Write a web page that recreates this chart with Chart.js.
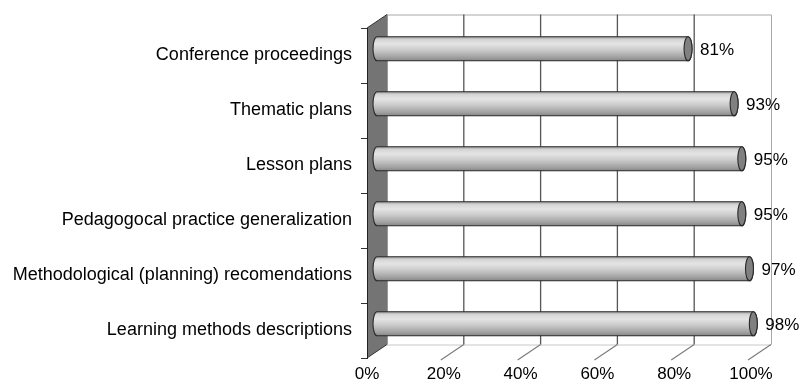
<!DOCTYPE html>
<html>
<head>
<meta charset="utf-8">
<script src="https://cdn.jsdelivr.net/npm/chart.js@4.4.1/dist/chart.umd.min.js"></script>
<style>
  html, body { margin: 0; padding: 0; background: #fff; }
  #wrap { width: 805px; height: 385px; }
</style>
</head>
<body>
<div id="wrap"><canvas id="c" width="805" height="385"></canvas></div>
<script>
// Kinds of materials and the share of respondents naming each one
const categories = [
  'Conference proceedings',
  'Thematic plans',
  'Lesson plans',
  'Pedagogocal practice generalization',
  'Methodological (planning) recomendations',
  'Learning methods descriptions'
];
const shares = [81, 93, 95, 95, 97, 98];
const tickValues = [0, 20, 40, 60, 80, 100];

// Perspective offset of the back wall relative to the front plane
const DEPTH_X = 20;
const DEPTH_Y = -13.5;
const FONT = '"Liberation Sans", Arial, Helvetica, sans-serif';

Chart.defaults.font.family = FONT;
Chart.defaults.color = '#000';

// Back wall, floor and left side wall of the 3-D box
const room3d = {
  id: 'room3d',
  beforeDraw(chart) {
    const { ctx, chartArea: a, scales: { x } } = chart;
    const f0 = x.getPixelForValue(0);
    const f100 = x.getPixelForValue(100);
    const b0 = f0 + DEPTH_X, b100 = f100 + DEPTH_X;
    const bTop = a.top + DEPTH_Y, bBottom = a.bottom + DEPTH_Y;
    ctx.save();
    // back wall outline
    ctx.strokeStyle = '#a8a8a8';
    ctx.lineWidth = 1;
    ctx.beginPath();
    ctx.moveTo(b0, bTop + 0.5); ctx.lineTo(b100 + 0.5, bTop + 0.5);
    ctx.lineTo(b100 + 0.5, bBottom);
    ctx.stroke();
    ctx.strokeStyle = '#c8c8c8';
    ctx.beginPath();
    ctx.moveTo(b0, bBottom + 0.5); ctx.lineTo(b100, bBottom + 0.5);
    ctx.stroke();
    // vertical gridlines on the back wall
    ctx.strokeStyle = '#555';
    ctx.lineWidth = 1.3;
    tickValues.forEach(v => {
      if (v === 0 || v === 100) return;
      const bx = x.getPixelForValue(v) + DEPTH_X;
      ctx.beginPath();
      ctx.moveTo(bx, bTop); ctx.lineTo(bx, bBottom);
      ctx.stroke();
    });
    // floor lines running to the front, ending in short ticks
    ctx.strokeStyle = '#7a7a7a';
    ctx.lineWidth = 1.1;
    const ext = 0.15;
    tickValues.forEach(v => {
      if (v === 0) return;
      const fx = x.getPixelForValue(v);
      const bx = fx + DEPTH_X;
      ctx.beginPath();
      ctx.moveTo(bx, bBottom);
      ctx.lineTo(fx - DEPTH_X * ext, a.bottom - DEPTH_Y * ext);
      ctx.stroke();
    });
    // left side wall
    ctx.fillStyle = '#747474';
    ctx.beginPath();
    ctx.moveTo(f0, a.top); ctx.lineTo(b0, bTop);
    ctx.lineTo(b0, bBottom); ctx.lineTo(f0, a.bottom);
    ctx.closePath();
    ctx.fill();
    ctx.strokeStyle = '#333';
    ctx.lineWidth = 1;
    ctx.beginPath();
    ctx.moveTo(f0, a.top); ctx.lineTo(b0, bTop);
    ctx.moveTo(f0, a.bottom); ctx.lineTo(b0, bBottom);
    ctx.stroke();
    ctx.strokeStyle = '#999';
    ctx.beginPath();
    ctx.moveTo(b0 + 0.5, bTop); ctx.lineTo(b0 + 0.5, bBottom);
    ctx.stroke();
    ctx.restore();
  }
};

// Bars drawn as shaded cylinders halfway into the box, with value labels
const cylinders = {
  id: 'cylinders',
  afterDatasetsDraw(chart) {
    const { ctx } = chart;
    const meta = chart.getDatasetMeta(0);
    const rx = 4;
    ctx.save();
    meta.data.forEach((el, i) => {
      const { x, y, base, height } = el.getProps(['x', 'y', 'base', 'height'], true);
      const x0 = base + DEPTH_X / 2;
      const x1 = x + DEPTH_X / 2;
      const cy = y + DEPTH_Y / 2;
      const r = height / 2;
      const g = ctx.createLinearGradient(0, cy - r, 0, cy + r);
      g.addColorStop(0, '#a0a0a0');
      g.addColorStop(0.12, '#d6d6d6');
      g.addColorStop(0.3, '#e4e4e4');
      g.addColorStop(0.55, '#cbcbcb');
      g.addColorStop(0.85, '#a2a2a2');
      g.addColorStop(1, '#868686');
      ctx.beginPath();
      ctx.moveTo(x0, cy - r);
      ctx.lineTo(x1, cy - r);
      ctx.ellipse(x1, cy, rx, r, 0, -Math.PI / 2, Math.PI / 2);
      ctx.lineTo(x0, cy + r);
      ctx.ellipse(x0, cy, rx, r, 0, Math.PI / 2, Math.PI * 1.5);
      ctx.closePath();
      ctx.fillStyle = g;
      ctx.fill();
      ctx.strokeStyle = '#2a2a2a';
      ctx.lineWidth = 1.1;
      ctx.stroke();
      // end cap
      ctx.beginPath();
      ctx.ellipse(x1, cy, rx, r, 0, 0, Math.PI * 2);
      ctx.fillStyle = '#808080';
      ctx.fill();
      ctx.stroke();
      // value label
      ctx.fillStyle = '#000';
      ctx.font = '17px ' + FONT;
      ctx.textAlign = 'left';
      ctx.textBaseline = 'middle';
      ctx.fillText(shares[i] + '%', x1 + rx + 8, cy + 2);
    });
    ctx.restore();
  }
};

new Chart(document.getElementById('c'), {
  type: 'bar',
  data: {
    labels: categories,
    datasets: [{
      data: shares,
      backgroundColor: 'rgba(0,0,0,0)',
      borderWidth: 0,
      barThickness: 24
    }]
  },
  options: {
    indexAxis: 'y',
    responsive: false,
    animation: false,
    layout: { padding: { top: 28, right: 54, bottom: 0, left: 0 } },
    plugins: { legend: { display: false }, tooltip: { enabled: false } },
    scales: {
      x: {
        min: 0,
        max: 100,
        afterBuildTicks: s => { s.ticks = tickValues.map(v => ({ value: v })); },
        afterFit: s => { s.height = 27; },
        grid: { display: false, drawTicks: false },
        border: { display: false },
        ticks: {
          padding: 6,
          maxRotation: 0,
          font: { size: 17 },
          color: '#000',
          callback: v => v + '%'
        }
      },
      y: {
        type: 'category',
        offset: true,
        afterFit: s => { s.width = 367; },
        grid: { offset: true, drawOnChartArea: false, drawTicks: true, tickLength: 6, color: '#333' },
        border: { display: true, color: '#222', width: 1 },
        ticks: { padding: 9, font: { size: 18 }, color: '#000' }
      }
    }
  },
  plugins: [room3d, cylinders]
});
</script>
</body>
</html>
